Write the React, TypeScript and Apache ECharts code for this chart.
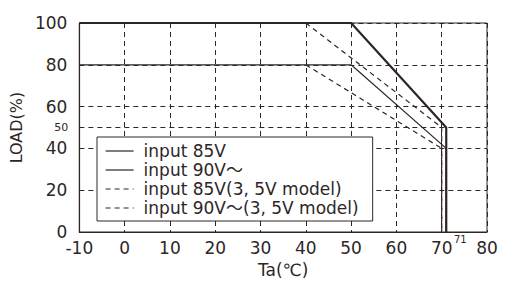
import React, { useEffect, useRef } from "react";
import * as echarts from "echarts";

const seriesNames = [
  "input 85V",
  "input 90V～",
  "input 85V(3, 5V model)",
  "input 90V～(3, 5V model)",
];
const input85: [number, number][] = [[-10, 80], [50, 80], [71, 40], [71, 0]];
const input90: [number, number][] = [[-10, 100], [50, 100], [71, 50], [71, 0]];
const input85Model: [number, number][] = [[40, 80], [70, 40], [70, 0]];
const input90Model: [number, number][] = [[40, 100], [70, 50], [70, 0]];
const extraYGrid = [50];
const extraXLabel = 71;

const INK = "#2e2626";
const FONT = "'DejaVu Sans', 'Noto Sans CJK JP', sans-serif";

export default function App() {
  const ref = useRef<HTMLDivElement>(null);
  useEffect(() => {
    if (!ref.current) return;
    const chart = echarts.init(ref.current, undefined, { renderer: "svg" });
    const dashed = { type: [5, 4] as any, color: INK, width: 1 };
    const option: any = {
      animation: false,
      textStyle: { fontFamily: FONT, color: INK },
      grid: {
        left: 68, right: 21, top: 23, bottom: 56,
        show: true, borderColor: INK, borderWidth: 1,
      },
      xAxis: {
        type: "value", min: -10, max: 80, interval: 10,
        name: "Ta(℃)", nameLocation: "middle", nameGap: 29,
        nameTextStyle: { fontSize: 17, color: INK, fontFamily: FONT },
        axisLine: { show: true, onZero: false, lineStyle: { color: INK, width: 1.2 } },
        axisTick: { show: false },
        axisLabel: { fontSize: 17, color: INK, margin: 7, fontFamily: FONT },
        splitLine: { show: true, lineStyle: dashed },
      },
      yAxis: {
        type: "value", min: 0, max: 100, interval: 20,
        name: "LOAD(%)", nameLocation: "middle", nameGap: 42,
        nameTextStyle: { fontSize: 16, color: INK, fontFamily: FONT },
        axisLine: { show: true, onZero: false, lineStyle: { color: INK, width: 1.2 } },
        axisTick: { show: false },
        axisLabel: { fontSize: 17, color: INK, margin: 12, fontFamily: FONT },
        splitLine: { show: true, lineStyle: dashed },
      },
      legend: {
        orient: "vertical",
        left: 97, top: 137,
        backgroundColor: "#fff",
        borderColor: INK, borderWidth: 1, borderRadius: 0,
        padding: [5, 14, 4, 8],
        itemWidth: 28, itemHeight: 14, itemGap: 1,
        lineStyle: { width: 1.2 },
        itemStyle: { color: "rgba(0,0,0,0)", borderWidth: 0 },
        textStyle: { fontSize: 17, color: INK, fontFamily: FONT, lineHeight: 18, padding: [0, 0, 0, 5] },
        data: seriesNames,
      },
      series: [
        {
          name: seriesNames[0], type: "line", data: input85, symbol: "none",
          lineStyle: { color: INK, width: 1.2 }, itemStyle: { color: INK },
          z: 3,
          markLine: {
            silent: true, symbol: "none",
            lineStyle: { ...dashed },
            label: { position: "start", distance: 11, fontSize: 11, color: INK, fontFamily: FONT, formatter: "{c}" },
            data: extraYGrid.map((v) => ({ yAxis: v })),
          },
        },
        {
          name: seriesNames[1], type: "line", data: input90, symbol: "none",
          lineStyle: { color: INK, width: 2.2 }, itemStyle: { color: INK }, z: 4,
        },
        {
          name: seriesNames[2], type: "line", data: input85Model, symbol: "none",
          lineStyle: { color: INK, width: 1.2, type: [5, 4] }, itemStyle: { color: INK }, z: 2,
        },
        {
          name: seriesNames[3], type: "line", data: input90Model, symbol: "none",
          lineStyle: { color: INK, width: 1.2, type: [5, 4] }, itemStyle: { color: INK }, z: 2,
        },
      ],
    };
    chart.setOption(option);
    const p = chart.convertToPixel({ gridIndex: 0 }, [extraXLabel, 0]) as number[];
    chart.setOption({
      graphic: [
        {
          type: "text", x: p[0] + 14, y: p[1] + 2,
          style: { text: String(extraXLabel), fontSize: 10, fill: INK, fontFamily: FONT, align: "center", verticalAlign: "top" },
        },
      ],
    });
    return () => chart.dispose();
  }, []);
  return <div ref={ref} style={{ width: 508, height: 288, position: "absolute", left: 0, top: 0 }} />;
}
